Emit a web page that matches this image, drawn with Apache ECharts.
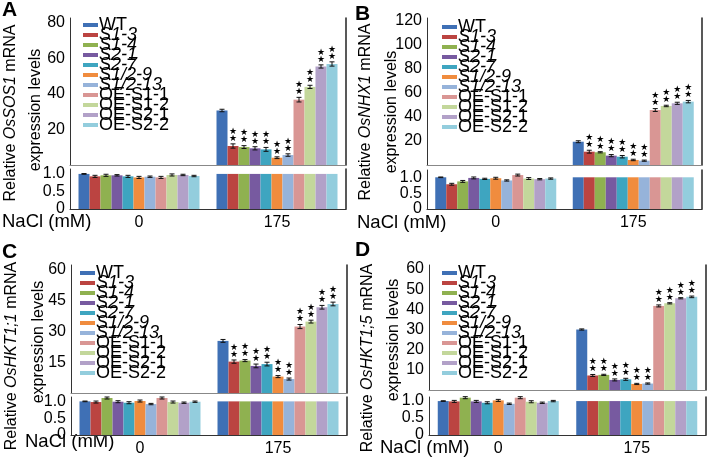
<!DOCTYPE html>
<html>
<head>
<meta charset="utf-8">
<script src="https://cdn.jsdelivr.net/npm/echarts@6/dist/echarts.min.js"></script>
<style>
html, body { margin: 0; padding: 0; background: #fff; }
#chart { width: 709px; height: 463px; }
</style>
</head>
<body>
<div id="chart"></div>
<script>
// lines and NaCl treatments
var lines = ['WT', 'S1-3', 'S1-4', 'S2-1', 'S2-7', 'S1/2-9', 'S1/2-13', 'OE-S1-1', 'OE-S1-2', 'OE-S2-1', 'OE-S2-2'];
var colors = ['#3f70b5', '#bb4441', '#8fb150', '#775aa0', '#3ea5c0', '#f08c3e', '#96b3da', '#d99694', '#c3d79b', '#b2a1c8', '#93cddd'];
var nacl = ['0', '175'];

// A: OsSOS1
var sos1Ctrl = [1.0, 0.93, 0.96, 0.96, 0.93, 0.9, 0.92, 0.9, 0.97, 0.97, 0.94];
var sos1CtrlErr = [0.01, 0.03, 0.03, 0.02, 0.03, 0.03, 0.02, 0.03, 0.03, 0.02, 0.02];
var sos1Salt = [30.7, 10.7, 10.1, 9.4, 8.8, 4.1, 5.6, 36.8, 44.0, 55.5, 56.9];
var sos1SaltErr = [0.7, 1.2, 0.8, 0.9, 1.1, 0.5, 0.7, 1.3, 0.9, 0.9, 1.2];

// B: OsNHX1
var nhx1Ctrl = [1.0, 0.78, 0.87, 0.98, 0.95, 0.97, 0.9, 1.07, 0.96, 0.94, 0.96];
var nhx1CtrlErr = [0.01, 0.03, 0.03, 0.03, 0.02, 0.03, 0.02, 0.03, 0.03, 0.02, 0.02];
var nhx1Salt = [19.4, 11.1, 10.6, 7.8, 6.9, 4.2, 3.6, 45.8, 49.2, 51.4, 52.8];
var nhx1SaltErr = [0.8, 1.2, 0.5, 0.9, 1.0, 0.6, 0.5, 1.2, 0.6, 0.9, 1.0];

// C: OsHKT1;1
var hkt11Ctrl = [1.0, 0.98, 1.1, 0.99, 0.96, 1.01, 0.92, 1.1, 0.98, 0.96, 0.99];
var hkt11CtrlErr = [0.01, 0.03, 0.03, 0.03, 0.03, 0.03, 0.02, 0.03, 0.03, 0.02, 0.02];
var hkt11Salt = [25.4, 15.3, 15.8, 13.2, 14.1, 8.0, 6.8, 32.4, 34.8, 41.8, 43.4];
var hkt11SaltErr = [0.7, 0.8, 0.5, 0.9, 0.9, 0.5, 0.5, 1.0, 0.7, 0.9, 0.9];

// D: OsHKT1;5
var hkt15Ctrl = [1.0, 0.99, 1.1, 0.99, 0.95, 1.02, 0.92, 1.1, 0.98, 0.95, 1.0];
var hkt15CtrlErr = [0.01, 0.03, 0.03, 0.03, 0.03, 0.03, 0.02, 0.03, 0.03, 0.02, 0.02];
var hkt15Salt = [30.0, 7.2, 7.5, 5.0, 5.3, 3.0, 3.2, 41.7, 43.0, 45.5, 46.2];
var hkt15SaltErr = [0.3, 0.5, 0.3, 0.5, 0.5, 0.3, 0.3, 0.5, 0.3, 0.3, 0.4];

// significance under 175 mM (same for all genes)
var saltStars = ['', '**', '**', '**', '**', '**', '**', '**', '**', '**', '**'];

var BAR_W = 11;
var BREAK = 1.0;   // axis break: lower panel shows up to here
var FONT = 'Liberation Sans, Arial, sans-serif';

var panels = [
  { letter: 'A', gene: 'OsSOS1', ctrl: sos1Ctrl, ctrlErr: sos1CtrlErr, salt: sos1Salt, saltErr: sos1SaltErr,
    left: 70, width: 276, upTop: 18, upBot: 165, upMax: 82.8, step: 20, loTop: 169, loBot: 209, loMax: 1.14,
    letterPos: [2, 0], t1: [11, 113], t2: [36, 110], legend: [83, 19], naclPos: [2, 222] },
  { letter: 'B', gene: 'OsNHX1', ctrl: nhx1Ctrl, ctrlErr: nhx1CtrlErr, salt: nhx1Salt, saltErr: nhx1SaltErr,
    left: 427, width: 275, upTop: 18, upBot: 165, upMax: 122.5, step: 20, loTop: 170, loBot: 209, loMax: 1.23,
    letterPos: [355, 4], t1: [366, 112], t2: [392, 112], legend: [442, 21], naclPos: [357, 223] },
  { letter: 'C', gene: 'OsHKT1;1', ctrl: hkt11Ctrl, ctrlErr: hkt11CtrlErr, salt: hkt11Salt, saltErr: hkt11SaltErr,
    left: 71, width: 276, upTop: 265, upBot: 393, upMax: 62.4, step: 15, loTop: 397, loBot: 435, loMax: 1.13,
    letterPos: [2, 242], t1: [12, 356], t2: [39, 342], legend: [80, 267], naclPos: [25, 442] },
  { letter: 'D', gene: 'OsHKT1;5', ctrl: hkt15Ctrl, ctrlErr: hkt15CtrlErr, salt: hkt15Salt, saltErr: hkt15SaltErr,
    left: 429, width: 277, upTop: 265, upBot: 390, upMax: 62, step: 10, loTop: 397, loBot: 435, loMax: 1.12,
    letterPos: [355, 240], t1: [368, 358], t2: [394, 340], legend: [442, 267], naclPos: [380, 448] }
];

function errRender(stars) {
  return function (params, api) {
    var cat = api.value(0), k = api.value(1), v = api.value(2), e = api.value(3);
    var dx = (k - (lines.length - 1) / 2) * BAR_W;
    var hi = api.coord([cat, v + e]);
    var lo = api.coord([cat, v - e]);
    var x = hi[0] + dx;
    var st = { stroke: '#111', lineWidth: 1 };
    var kids = [
      { type: 'line', shape: { x1: x, y1: hi[1], x2: x, y2: lo[1] }, style: st },
      { type: 'line', shape: { x1: x - 2.5, y1: hi[1], x2: x + 2.5, y2: hi[1] }, style: st },
      { type: 'line', shape: { x1: x - 2.5, y1: lo[1], x2: x + 2.5, y2: lo[1] }, style: st }
    ];
    if (stars && stars[k] === '**') {
      kids.push({ type: 'text', x: x, y: hi[1] - 2, style: {
        text: '★\n★', fontSize: 9, lineHeight: 7, fontFamily: 'DejaVu Sans',
        fill: '#000', align: 'center', verticalAlign: 'bottom' } });
    }
    return { type: 'group', children: kids };
  };
}

var grids = [], xAxes = [], yAxes = [], series = [], legends = [], graphics = [];

panels.forEach(function (p, pi) {
  var gU = pi * 2, gL = pi * 2 + 1;
  grids.push({ left: p.left, top: p.upTop, width: p.width, height: p.upBot - p.upTop, outerBoundsMode: 'none' });
  grids.push({ left: p.left, top: p.loTop, width: p.width, height: p.loBot - p.loTop, outerBoundsMode: 'none' });

  // upper: category axis sits on top as the frame line
  xAxes.push({ type: 'category', gridIndex: gU, data: nacl, position: 'top',
    axisLine: { lineStyle: { color: '#888', width: 1 } }, axisTick: { show: false }, axisLabel: { show: false } });
  xAxes.push({ type: 'category', gridIndex: gL, data: nacl, position: 'bottom',
    axisLine: { lineStyle: { color: '#333', width: 1 } }, axisTick: { show: false },
    axisLabel: { color: '#000', fontSize: 16, fontFamily: FONT, margin: 6 } });

  [[gU, 0, p.upMax, p.step, false], [gL, 0, p.loMax, 0.5, true]].forEach(function (a) {
    yAxes.push({ type: 'value', gridIndex: a[0], position: 'left', min: a[1], max: a[2], interval: a[3],
      axisLine: { show: true, lineStyle: { color: '#333', width: 1 } }, axisTick: { show: false },
      splitLine: { show: false },
      axisLabel: { color: '#000', fontSize: 16, fontFamily: FONT, margin: 5,
        showMinLabel: a[4], showMaxLabel: false,
        formatter: function (v) { return a[4] ? (v === 0 ? '0' : v.toFixed(1)) : String(v); } } });
    yAxes.push({ type: 'value', gridIndex: a[0], position: 'right', min: a[1], max: a[2],
      axisLine: { show: true, lineStyle: { color: '#222', width: 1.5 } }, axisTick: { show: false },
      splitLine: { show: false }, axisLabel: { show: false } });
  });

  lines.forEach(function (name, k) {
    series.push({ type: 'bar', name: name, xAxisIndex: gU, yAxisIndex: gU * 2,
      barWidth: BAR_W, barGap: '0%', itemStyle: { color: colors[k] },
      data: [p.ctrl[k] > BREAK * 2 ? p.ctrl[k] : '-', p.salt[k] > BREAK ? p.salt[k] : '-'] });
    series.push({ type: 'bar', name: name, xAxisIndex: gL, yAxisIndex: gL * 2,
      barWidth: BAR_W, barGap: '0%', itemStyle: { color: colors[k] },
      data: [p.ctrl[k], Math.min(p.salt[k], BREAK)] });
  });

  series.push({ type: 'custom', xAxisIndex: gU, yAxisIndex: gU * 2, z: 5, renderItem: errRender(saltStars),
    data: lines.map(function (n, k) { return [1, k, p.salt[k], p.saltErr[k]]; }) });
  series.push({ type: 'custom', xAxisIndex: gL, yAxisIndex: gL * 2, z: 5, renderItem: errRender(null),
    data: lines.map(function (n, k) { return [0, k, p.ctrl[k], p.ctrlErr[k]]; }) });

  // squeezed legend, labels overlap like in the original figure
  legends.push({ orient: 'vertical', left: p.legend[0], top: p.legend[1] - 3, padding: 0,
    itemWidth: 15, itemHeight: 4, itemGap: -8, icon: 'rect', selectedMode: false, data: lines,
    formatter: function (n) { return /^S/.test(n) ? '{i|' + n + '}' : '{n|' + n + '}'; },
    textStyle: { fontSize: 18, color: '#000', fontFamily: FONT, padding: [0, 0, 0, -4],
      rich: { i: { fontSize: 18, fontStyle: 'italic', fontFamily: FONT },
              n: { fontSize: 18, fontFamily: FONT } } } });

  var rich = { n: { fontSize: 16, fontFamily: FONT, fill: '#000' },
               i: { fontSize: 16, fontFamily: FONT, fontStyle: 'italic', fill: '#000' } };
  graphics.push({ type: 'text', x: p.letterPos[0], y: p.letterPos[1],
    style: { text: p.letter, fontSize: 21, fontWeight: 'bold', fontFamily: FONT, fill: '#000', verticalAlign: 'top' } });
  graphics.push({ type: 'text', x: p.t1[0], y: p.t1[1], rotation: Math.PI / 2,
    style: { text: '{n|Relative }{i|' + p.gene + '}{n| mRNA}', rich: rich, align: 'center', verticalAlign: 'middle' } });
  graphics.push({ type: 'text', x: p.t2[0], y: p.t2[1], rotation: Math.PI / 2,
    style: { text: '{n|expression levels}', rich: rich, align: 'center', verticalAlign: 'middle' } });
  graphics.push({ type: 'text', x: p.naclPos[0], y: p.naclPos[1],
    style: { text: 'NaCl (mM)', fontSize: 18.5, fontFamily: FONT, fill: '#000', verticalAlign: 'middle' } });
});

var chart = echarts.init(document.getElementById('chart'));
chart.setOption({
  animation: false,
  grid: grids,
  xAxis: xAxes,
  yAxis: yAxes,
  legend: legends,
  series: series,
  graphic: graphics
});
</script>
</body>
</html>
